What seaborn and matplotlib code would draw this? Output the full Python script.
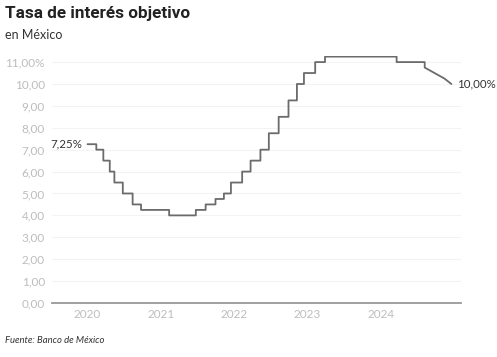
import matplotlib
matplotlib.use("Agg")
import matplotlib.pyplot as plt
import seaborn as sns
import pandas as pd

# Data: Banxico target rate decisions (date of change, new rate)
change_dates = ["2020-01-01", "2020-02-14", "2020-03-20", "2020-04-21", "2020-05-14",
                "2020-06-25", "2020-08-13", "2020-09-24", "2021-02-11", "2021-06-24",
                "2021-08-12", "2021-09-30", "2021-11-11", "2021-12-16", "2022-02-10",
                "2022-03-24", "2022-05-12", "2022-06-23", "2022-08-11", "2022-09-29",
                "2022-11-10", "2022-12-15", "2023-02-09", "2023-03-30", "2024-03-21",
                "2024-08-08", "2024-09-26", "2024-11-14", "2024-12-19"]
rates = [7.25, 7.00, 6.50, 6.00, 5.50, 5.00, 4.50, 4.25, 4.00, 4.25,
         4.50, 4.75, 5.00, 5.50, 6.00, 6.50, 7.00, 7.75, 8.50, 9.25,
         10.00, 10.50, 11.00, 11.25, 11.00, 10.75, 10.50, 10.25, 10.00]
n_stepped = 26  # changes drawn as steps; the rest joined by straight segments

y_ticks = [0, 1, 2, 3, 4, 5, 6, 7, 8, 9, 10, 11]
y_tick_labels = ["0,00", "1,00", "2,00", "3,00", "4,00", "5,00", "6,00",
                 "7,00", "8,00", "9,00", "10,00", "11,00%"]
x_years = [2020, 2021, 2022, 2023, 2024]

# Build the drawn path
dates = pd.to_datetime(change_dates)
px, py = [], []
for i in range(len(dates)):
    if 0 < i < n_stepped:
        px.append(dates[i]); py.append(rates[i - 1])
    px.append(dates[i]); py.append(rates[i])
df = pd.DataFrame({"fecha": px, "tasa": py})

sns.set_theme(style="white")
plt.rcParams["font.family"] = ["Lato", "DejaVu Sans"]

fig = plt.figure(figsize=(4.97, 3.57), dpi=100)
ax = fig.add_axes([0.1046, 0.1513, 0.8230, 0.6932])

sns.lineplot(data=df, x="fecha", y="tasa", sort=False, estimator=None,
             color="#6b6b6b", linewidth=1.3, ax=ax)

ax.set_ylim(0, 11.3)
ax.set_xlim(pd.Timestamp("2019-07-08"), pd.Timestamp("2025-02-05"))
ax.set_yticks(y_ticks)
ax.set_yticklabels(y_tick_labels)
ax.set_xticks([pd.Timestamp(f"{y}-01-01") for y in x_years])
ax.set_xticklabels([str(y) for y in x_years])
ax.tick_params(axis="both", length=0, labelsize=8.5, labelcolor="#bdbdbd")
ax.tick_params(axis="y", pad=5)
ax.tick_params(axis="x", pad=4)
ax.set_xlabel("")
ax.set_ylabel("")
for s in ["top", "right", "left"]:
    ax.spines[s].set_visible(False)
ax.spines["bottom"].set_color("#999999")
ax.spines["bottom"].set_linewidth(1.3)
ax.yaxis.grid(True, color="#f3f3f3", linewidth=0.8)
ax.set_axisbelow(True)

# Annotations
ax.annotate("7,25%", xy=(dates[0], rates[0]), xytext=(-4, 0), textcoords="offset points",
            ha="right", va="center", fontsize=8.3, color="#333333")
ax.annotate("10,00%", xy=(dates[-1], rates[-1]), xytext=(4, 0), textcoords="offset points",
            ha="left", va="center", fontsize=8.3, color="#333333")

fig.text(0.010, 0.962, "Tasa de interés objetivo", fontsize=12.3, fontweight="bold",
         color="#222222", family=["Roboto", "DejaVu Sans"], va="center")
fig.text(0.010, 0.902, "en México", fontsize=9, color="#333333", va="center")
fig.text(0.010, 0.045, "Fuente: Banco de México", fontsize=6.8, style="italic",
         color="#333333", va="center")

fig.savefig("out.png", dpi=100)
